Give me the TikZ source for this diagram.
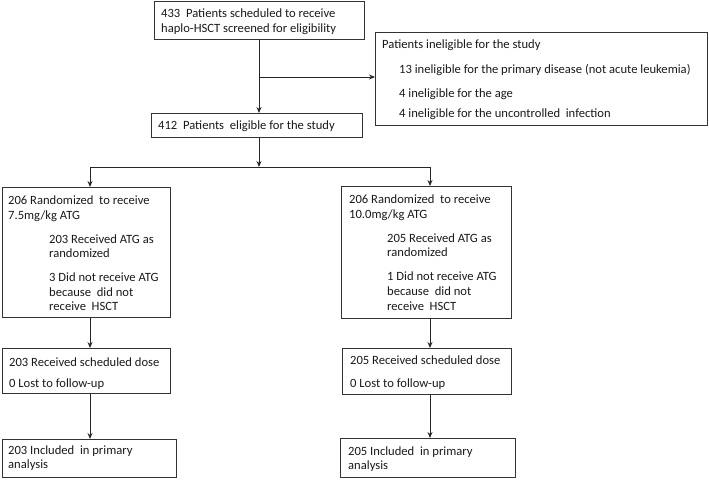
\documentclass[tikz,border=0pt]{standalone}
\usepackage{fontspec}
\setmainfont{Carlito}
\usetikzlibrary{arrows.meta}
\begin{document}
\begin{tikzpicture}[x=1pt,y=-1pt,
  box/.style={draw=black!80, line width=0.9pt, inner sep=0pt, anchor=north west},
  txt/.style={anchor=base west, inner sep=0pt, font=\fontsize{12.6}{15}\selectfont, text=black!90},
  conn/.style={draw=black!85, line width=0.9pt},
  arr/.style={conn, -{Stealth[length=6pt,width=5pt]}}]
\useasboundingbox (0,0) rectangle (709,479);
% boxes
\node[box, minimum width=210pt, minimum height=38pt] (top) at (154,1) {};
\node[box, minimum width=211pt, minimum height=24pt] (elig) at (151,113) {};
\node[box, minimum width=332pt, minimum height=93pt] (inel) at (375,32) {};
\node[box, minimum width=168pt, minimum height=130pt] (L1) at (2,187) {};
\node[box, minimum width=170pt, minimum height=132pt] (R1) at (341,186) {};
\node[box, minimum width=168pt, minimum height=45pt] (L2) at (2,348) {};
\node[box, minimum width=169pt, minimum height=46pt] (R2) at (342,348) {};
\node[box, minimum width=174pt, minimum height=38pt] (L3) at (2,439) {};
\node[box, minimum width=175pt, minimum height=39pt] (R3) at (340,438) {};
% texts
\node[txt] (t1) at (161,17) {433~ Patients scheduled to receive};
\node[txt] (t2) at (161,32) {haplo-HSCT screened for eligibility};
\node[txt] (t3) at (158,129) {412~ Patients~ eligible for the study};
\node[txt] (t4) at (382,48) {Patients ineligible for the study};
\node[txt] (t5) at (399,73) {13 ineligible for the primary disease (not acute leukemia)};
\node[txt] (t6) at (399,97) {4 ineligible for the age};
\node[txt] (t7) at (399,117) {4 ineligible for the uncontrolled~ infection};
\node[txt] (l1a) at (8,204) {206 Randomized~ to receive};
\node[txt] (l1b) at (8,219) {7.5mg/kg ATG};
\node[txt] (l1c) at (49,243) {203 Received ATG as};
\node[txt] (l1d) at (49,257) {randomized};
\node[txt] (l1e) at (49,281) {3 Did not receive ATG};
\node[txt] (l1f) at (49,296) {because~ did not};
\node[txt] (l1g) at (49,310) {receive~ HSCT};
\node[txt] (r1a) at (349,203) {206 Randomized~ to receive};
\node[txt] (r1b) at (349,218) {10.0mg/kg ATG};
\node[txt] (r1c) at (387,242) {205 Received ATG as};
\node[txt] (r1d) at (387,256) {randomized};
\node[txt] (r1e) at (387,280) {1 Did not receive ATG};
\node[txt] (r1f) at (387,295) {because~ did not};
\node[txt] (r1g) at (387,310) {receive~ HSCT};
\node[txt] (l2a) at (9,366) {203 Received scheduled dose};
\node[txt] (l2b) at (9,387) {0 Lost to follow-up};
\node[txt] (r2a) at (350,364) {205 Received scheduled dose};
\node[txt] (r2b) at (350,387) {0 Lost to follow-up};
\node[txt] (l3a) at (8,454) {203 Included~ in primary};
\node[txt] (l3b) at (8,468) {analysis};
\node[txt] (r3a) at (348,455) {205 Included~ in primary};
\node[txt] (r3b) at (348,469) {analysis};
% connectors
\coordinate (br) at (259,77);
\coordinate (split) at (259,167);
\coordinate (ls) at (90,167);
\coordinate (rs) at (430,167);
\draw[arr] (top.south -| br) -- (elig.north -| br);
\draw[arr] (br) -- (inel.west |- br);
\draw[arr] (elig.south -| split) -- (split);
\draw[conn] (ls) -- (rs);
\draw[arr] (ls) -- (ls |- L1.north);
\draw[arr] (rs) -- (rs |- R1.north);
\draw[arr] (L1.south -| ls) -- (L2.north -| ls);
\draw[arr] (L2.south -| ls) -- (L3.north -| ls);
\draw[arr] (R1.south -| rs) -- (R2.north -| rs);
\draw[arr] (R2.south -| rs) -- (R3.north -| rs);
\end{tikzpicture}
\end{document}
